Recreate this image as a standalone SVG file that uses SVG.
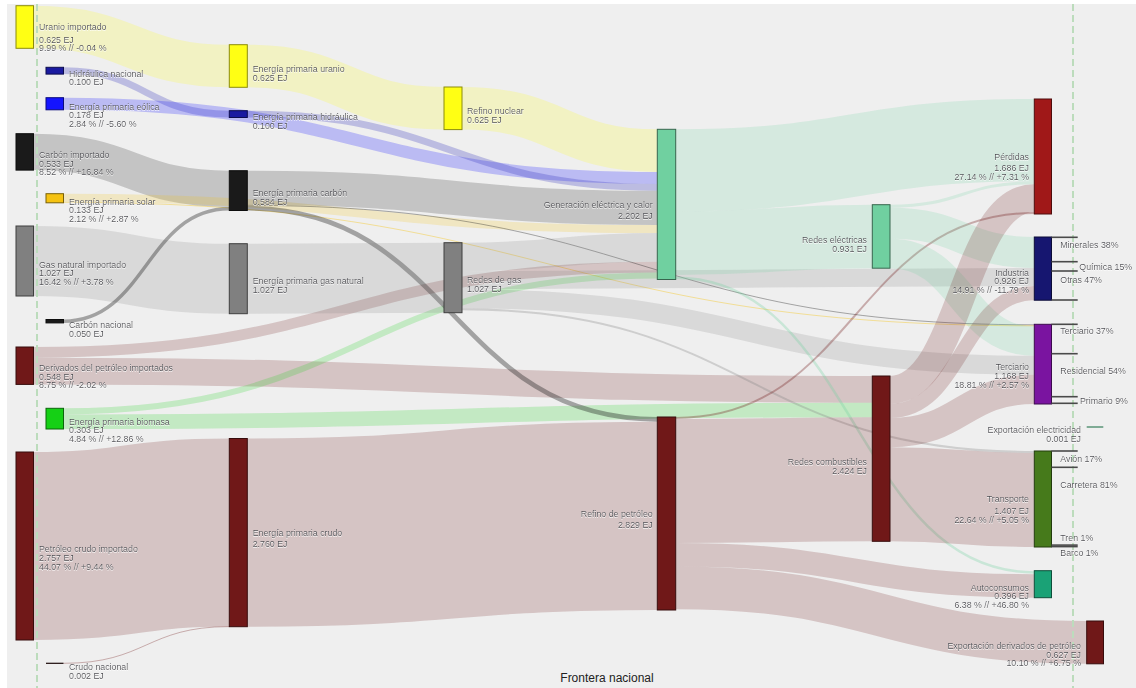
<svg xmlns="http://www.w3.org/2000/svg" width="1136" height="688" viewBox="0 0 1136 688">
<defs>
<filter id="halo" x="-5%" y="-30%" width="110%" height="160%"><feDropShadow dx="0" dy="0.9" stdDeviation="0.2" flood-color="#ffffff" flood-opacity="0.9"/></filter>
<style>
.lk{fill:none;stroke-opacity:0.2}
.th{stroke-opacity:0.38}
.ur{stroke:#ffff14}.hy{stroke:#2a2ab8;stroke-opacity:0.26}.wi{stroke:#1414ff;stroke-opacity:0.24}
.co{stroke:#1a1a1a}.so{stroke:#f5c211}.ga{stroke:#808080}.pe{stroke:#701818}
.bi{stroke:#15d015}.el{stroke:#70d0a0}
.th.co{stroke-opacity:0.36}.th.so{stroke-opacity:0.4}.th.pe{stroke-opacity:0.32}.th.ga{stroke-opacity:0.3}.th.el{stroke-opacity:0.3}
rect{stroke-width:1}
.n-ur{fill:#ffff14;stroke:#8c8c0a}.n-hy{fill:#1a1aa0;stroke:#0d0d4e}.n-wi{fill:#1414ff;stroke:#0a0a7d}
.n-co{fill:#1a1a1a;stroke:#0d0d0d}.n-so{fill:#f5c211;stroke:#786008}.n-ga{fill:#808080;stroke:#3f3f3f}
.n-pe{fill:#701818;stroke:#370c0c}.n-bi{fill:#15d015;stroke:#0a660a}.n-el{fill:#70d0a0;stroke:#37664e}
.n-pd{fill:#a01818;stroke:#4e0c0c}.n-in{fill:#161670;stroke:#0b0b37}.n-te{fill:#7a14a0;stroke:#3c0a4e}
.n-tr{fill:#467a1b;stroke:#223c0d}.n-au{fill:#1aa276;stroke:#0d4f3a}
text{font-family:"Liberation Sans",Arial,sans-serif;font-size:8.8px;fill:#4f4f55}
.lbl{filter:url(#halo)}
.e{text-anchor:end}
.br{stroke:#4a4a4a;stroke-width:1.6}
.fr{stroke:#bcdcbc;stroke-width:2;stroke-dasharray:7,4;fill:none}
</style>
</defs>
<rect x="7" y="4" width="1129" height="684" fill="#efefef"/>
<g id="connectors">
<path class="lk ur" stroke-width="42.6" d="M33.5,27 C131.4,27 131.4,66 229.3,66"/>
<path class="lk hy" stroke-width="6.8" d="M63.5,70.7 C146.4,70.7 146.4,114.1 229.3,114.1"/>
<path class="lk wi" stroke-width="12.1" d="M63.5,103.75 C360.4,103.75 360.4,177.95 657.3,177.95"/>
<path class="lk co" stroke-width="36.4" d="M33.5,151.9 C131.4,151.9 131.4,188.9 229.3,188.9"/>
<path class="lk so" stroke-width="8.1" d="M63.5,197.75 C360.4,197.75 360.4,229.05 657.3,229.05"/>
<path class="lk so th" stroke-width="1" d="M63.5,202.3 C548.9,202.3 548.9,325.8 1034.3,325.8"/>
<path class="lk ga" stroke-width="70" d="M33.5,261 C131.4,261 131.4,278.7 229.3,278.7"/>
<path class="lk co th" stroke-width="3.4" d="M63.5,321.2 C146.4,321.2 146.4,208.8 229.3,208.8"/>
<path class="lk pe" stroke-width="10.7" d="M33.5,352.35 C345.4,352.35 345.4,267.05 657.3,267.05"/>
<path class="lk pe" stroke-width="26.7" d="M33.5,371.05 C452.9,371.05 452.9,389.35 872.3,389.35"/>
<path class="lk bi" stroke-width="6.1" d="M63.5,411.35 C360.4,411.35 360.4,275.45 657.3,275.45"/>
<path class="lk bi" stroke-width="14.6" d="M63.5,421.7 C467.9,421.7 467.9,410 872.3,410"/>
<path class="lk pe" stroke-width="188" d="M33.5,546 C131.4,546 131.4,532.5 229.3,532.5"/>
<path class="lk pe th" stroke-width="1" d="M63.5,663.3 C146.4,663.3 146.4,626.6 229.3,626.6"/>
<path class="lk ur" stroke-width="42.6" d="M247.3,66 C345.65,66 345.65,108.3 444,108.3"/>
<path class="lk hy" stroke-width="6.8" d="M247.3,114.1 C452.3,114.1 452.3,187.4 657.3,187.4"/>
<path class="lk co" stroke-width="34.2" d="M247.3,187.8 C452.3,187.8 452.3,207.9 657.3,207.9"/>
<path class="lk co th" stroke-width="1" d="M247.3,205.4 C640.8,205.4 640.8,324.8 1034.3,324.8"/>
<path class="lk co th" stroke-width="4.7" d="M247.3,208.25 C452.3,208.25 452.3,419.35 657.3,419.35"/>
<path class="lk ga" stroke-width="70" d="M247.3,278.7 C345.65,278.7 345.65,277.7 444,277.7"/>
<path class="lk pe" stroke-width="188.2" d="M247.3,532.6 C452.3,532.6 452.3,515.8 657.3,515.8"/>
<path class="lk ur" stroke-width="42.6" d="M462,108.3 C559.65,108.3 559.65,150.6 657.3,150.6"/>
<path class="lk ga" stroke-width="28.6" d="M462,257 C559.65,257 559.65,247.4 657.3,247.4"/>
<path class="lk ga" stroke-width="18" d="M462,280.3 C748.15,280.3 748.15,277 1034.3,277"/>
<path class="lk ga" stroke-width="19" d="M462,298.8 C748.15,298.8 748.15,365.3 1034.3,365.3"/>
<path class="lk ga th" stroke-width="2" d="M462,309.3 C748.15,309.3 748.15,452 1034.3,452"/>
<path class="lk el" stroke-width="82.2" d="M675.7,170.4 C855,170.4 855,140.1 1034.3,140.1"/>
<path class="lk el" stroke-width="63.5" d="M675.7,243.25 C774,243.25 774,236.45 872.3,236.45"/>
<path class="lk el th" stroke-width="2.5" d="M675.7,277.75 C855,277.75 855,572.45 1034.3,572.45"/>
<path class="lk pe th" stroke-width="2" d="M675.7,418 C855,418 855,213 1034.3,213"/>
<path class="lk pe" stroke-width="124" d="M675.7,481 C774,481 774,479.3 872.3,479.3"/>
<path class="lk pe" stroke-width="23.5" d="M675.7,554.75 C855,554.75 855,585.95 1034.3,585.95"/>
<path class="lk pe" stroke-width="42.8" d="M675.7,587.9 C881.2,587.9 881.2,642.4 1086.7,642.4"/>
<path class="lk el" stroke-width="3" d="M890,206.2 C962.15,206.2 962.15,182.7 1034.3,182.7"/>
<path class="lk el" stroke-width="31" d="M890,223.2 C962.15,223.2 962.15,252.5 1034.3,252.5"/>
<path class="lk el" stroke-width="29.5" d="M890,253.45 C962.15,253.45 962.15,341.05 1034.3,341.05"/>
<path class="lk pe" stroke-width="27.8" d="M890,389.9 C962.15,389.9 962.15,198.1 1034.3,198.1"/>
<path class="lk pe" stroke-width="14.2" d="M890,410.9 C962.15,410.9 962.15,293.1 1034.3,293.1"/>
<path class="lk pe" stroke-width="29.2" d="M890,432.6 C962.15,432.6 962.15,389.4 1034.3,389.4"/>
<path class="lk pe" stroke-width="94" d="M890,494.2 C962.15,494.2 962.15,500 1034.3,500"/>
</g>
<g id="frontera">
<line class="fr" x1="37" y1="4" x2="37" y2="688"/>
<line class="fr" x1="1073" y1="4" x2="1073" y2="688"/>
<text x="607" y="681.5" text-anchor="middle" style="font-size:12px;fill:#222">Frontera nacional</text>
</g>
<g id="node-uranio-importado"><rect class="n-ur" x="16" y="5.7" width="17.5" height="42.6"/><text class="lbl" x="39"><tspan x="39" y="30.2">Uranio importado</tspan><tspan x="39" y="42.5">0.625 EJ</tspan><tspan x="39" y="50.9">9.99 % // -0.04 %</tspan></text></g>
<g id="node-hidraulica-nacional"><rect class="n-hy" x="46" y="67.3" width="17.5" height="6.8"/><text class="lbl"><tspan x="69" y="76.5">Hidráulica nacional</tspan><tspan x="69" y="85.2">0.100 EJ</tspan></text></g>
<g id="node-eolica"><rect class="n-wi" x="46" y="97.7" width="17.5" height="12.1"/><text class="lbl"><tspan x="69" y="109.9">Energía primaria eólica</tspan><tspan x="69" y="118.2">0.178 EJ</tspan><tspan x="69" y="127.2">2.84 % // -5.60 %</tspan></text></g>
<g id="node-carbon-importado"><rect class="n-co" x="16" y="133.7" width="17.5" height="36.4"/><text class="lbl"><tspan x="39" y="157.9">Carbón importado</tspan><tspan x="39" y="166.5">0.533 EJ</tspan><tspan x="39" y="175.2">8.52 % // +16.84 %</tspan></text></g>
<g id="node-solar"><rect class="n-so" x="46" y="193.7" width="17.5" height="9.1"/><text class="lbl"><tspan x="69" y="204.5">Energía primaria solar</tspan><tspan x="69" y="213.2">0.133 EJ</tspan><tspan x="69" y="221.9">2.12 % // +2.87 %</tspan></text></g>
<g id="node-gas-importado"><rect class="n-ga" x="16" y="226" width="17.5" height="70"/><text class="lbl"><tspan x="39" y="267.5">Gas natural importado</tspan><tspan x="39" y="275.9">1.027 EJ</tspan><tspan x="39" y="284.5">16.42 % // +3.78 %</tspan></text></g>
<g id="node-carbon-nacional"><rect class="n-co" x="46" y="319.5" width="17.5" height="3.4"/><text class="lbl"><tspan x="69" y="327.5">Carbón nacional</tspan><tspan x="69" y="336.5">0.050 EJ</tspan></text></g>
<g id="node-derivados-importados"><rect class="n-pe" x="16" y="347" width="17.5" height="37.4"/><text class="lbl"><tspan x="39" y="370.9">Derivados del petróleo importados</tspan><tspan x="39" y="379.5">0.548 EJ</tspan><tspan x="39" y="388.2">8.75 % // -2.02 %</tspan></text></g>
<g id="node-biomasa"><rect class="n-bi" x="46" y="408.3" width="17.5" height="20.7"/><text class="lbl"><tspan x="69" y="424.5">Energía primaria biomasa</tspan><tspan x="69" y="433.2">0.303 EJ</tspan><tspan x="69" y="442.2">4.84 % // +12.86 %</tspan></text></g>
<g id="node-crudo-importado"><rect class="n-pe" x="16" y="452" width="17.5" height="188"/><text class="lbl"><tspan x="39" y="551.9">Petróleo crudo importado</tspan><tspan x="39" y="560.5">2.757 EJ</tspan><tspan x="39" y="569.9">44.07 % // +9.44 %</tspan></text></g>
<g id="node-crudo-nacional"><line x1="46" y1="663.3" x2="63.5" y2="663.3" stroke="#1a0808" stroke-width="1.2"/><text class="lbl"><tspan x="69" y="669.9">Crudo nacional</tspan><tspan x="69" y="678.5">0.002 EJ</tspan></text></g>
<g id="node-ep-uranio"><rect class="n-ur" x="229.3" y="44.7" width="18" height="42.6"/><text class="lbl"><tspan x="252.7" y="71.9">Energía primaria uranio</tspan><tspan x="252.7" y="80.5">0.625 EJ</tspan></text></g>
<g id="node-ep-hidraulica"><rect class="n-hy" x="229.3" y="110.7" width="18" height="6.8"/><text class="lbl"><tspan x="252.7" y="119.9">Energía primaria hidráulica</tspan><tspan x="252.7" y="128.5">0.100 EJ</tspan></text></g>
<g id="node-ep-carbon"><rect class="n-co" x="229.3" y="170.7" width="18" height="39.8"/><text class="lbl"><tspan x="252.7" y="196.2">Energía primaria carbón</tspan><tspan x="252.7" y="204.9">0.584 EJ</tspan></text></g>
<g id="node-ep-gas"><rect class="n-ga" x="229.3" y="243.7" width="18" height="70"/><text class="lbl"><tspan x="252.7" y="283.9">Energía primaria gas natural</tspan><tspan x="252.7" y="292.5">1.027 EJ</tspan></text></g>
<g id="node-ep-crudo"><rect class="n-pe" x="229.3" y="438.5" width="18" height="188.2"/><text class="lbl"><tspan x="252.7" y="535.9">Energía primaria crudo</tspan><tspan x="252.7" y="546.5">2.760 EJ</tspan></text></g>
<g id="node-refino-nuclear"><rect class="n-ur" x="444" y="87" width="18" height="42.6"/><text class="lbl"><tspan x="467" y="114.2">Refino nuclear</tspan><tspan x="467" y="123.2">0.625 EJ</tspan></text></g>
<g id="node-redes-gas"><rect class="n-ga" x="444" y="242.7" width="18" height="70"/><text class="lbl"><tspan x="467" y="283.2">Redes de gas</tspan><tspan x="467" y="292.2">1.027 EJ</tspan></text></g>
<g id="node-generacion"><rect class="n-el" x="657.3" y="129.3" width="18.4" height="150.2"/><text class="lbl e"><tspan x="652.7" y="208.2">Generación eléctrica y calor</tspan><tspan x="652.7" y="218.5">2.202 EJ</tspan></text></g>
<g id="node-refino-petroleo"><rect class="n-pe" x="657.3" y="417" width="18.4" height="193"/><text class="lbl e"><tspan x="652.7" y="517.2">Refino de petróleo</tspan><tspan x="652.7" y="527.5">2.829 EJ</tspan></text></g>
<g id="node-redes-electricas"><rect class="n-el" x="872.3" y="204.7" width="17.7" height="63.5"/><text class="lbl e"><tspan x="867" y="243.2">Redes eléctricas</tspan><tspan x="867" y="251.5">0.931 EJ</tspan></text></g>
<g id="node-redes-combustibles"><rect class="n-pe" x="872.3" y="376" width="17.7" height="165.3"/><text class="lbl e"><tspan x="867" y="464.9">Redes combustibles</tspan><tspan x="867" y="473.5">2.424 EJ</tspan></text></g>
<g id="node-perdidas"><rect class="n-pd" x="1034.3" y="99" width="17.2" height="115"/><text class="lbl e"><tspan x="1029" y="159.9">Pérdidas</tspan><tspan x="1029" y="170.5">1.686 EJ</tspan><tspan x="1029" y="179.9">27.14 % // +7.31 %</tspan></text></g>
<g id="node-industria"><rect class="n-in" x="1034.3" y="237" width="17.2" height="63.2"/><text class="lbl e"><tspan x="1029" y="275.5">Industria</tspan><tspan x="1029" y="284.2">0.926 EJ</tspan><tspan x="1029" y="293.2">14.91 % // -11.79 %</tspan></text>
<line class="br" x1="1051.5" y1="237.3" x2="1077.7" y2="237.3"/><line class="br" x1="1051.5" y1="261.7" x2="1077.7" y2="261.7"/><line class="br" x1="1051.5" y1="271" x2="1077.7" y2="271"/><line class="br" x1="1051.5" y1="300" x2="1077.7" y2="300"/>
<text class="lbl" x="1060.3" y="247.9">Minerales 38%</text><text class="lbl" x="1079.3" y="269.9">Química 15%</text><text class="lbl" x="1060.3" y="283.2">Otras 47%</text></g>
<g id="node-terciario"><rect class="n-te" x="1034.3" y="324.3" width="17.2" height="79.7"/><text class="lbl e"><tspan x="1029" y="369.9">Terciario</tspan><tspan x="1029" y="378.5">1.168 EJ</tspan><tspan x="1029" y="387.5">18.81 % // +2.57 %</tspan></text>
<line class="br" x1="1051.5" y1="324.3" x2="1077.7" y2="324.3"/><line class="br" x1="1051.5" y1="353.7" x2="1077.7" y2="353.7"/><line class="br" x1="1051.5" y1="396.7" x2="1077.7" y2="396.7"/><line class="br" x1="1051.5" y1="403.3" x2="1077.7" y2="403.3"/>
<text class="lbl" x="1060.3" y="334.2">Terciario 37%</text><text class="lbl" x="1060.3" y="374.2">Residencial 54%</text><text class="lbl" x="1080" y="403.5">Primario 9%</text></g>
<g id="node-exportacion-electricidad"><line x1="1086.7" y1="427" x2="1103.3" y2="427" stroke="#4f8f6f" stroke-width="1.4"/><text class="lbl e"><tspan x="1081" y="433.2">Exportación electricidad</tspan><tspan x="1081" y="441.9">0.001 EJ</tspan></text></g>
<g id="node-transporte"><rect class="n-tr" x="1034.3" y="451" width="17.2" height="96"/><text class="lbl e"><tspan x="1029" y="501.5">Transporte</tspan><tspan x="1029" y="513.9">1.407 EJ</tspan><tspan x="1029" y="522.5">22.64 % // +5.05 %</tspan></text>
<line class="br" x1="1051.5" y1="451" x2="1077.7" y2="451"/><line class="br" x1="1051.5" y1="467.3" x2="1077.7" y2="467.3"/><line class="br" x1="1051.5" y1="545.1" x2="1077.7" y2="545.1"/><line class="br" x1="1051.5" y1="546.6" x2="1077.7" y2="546.6"/>
<text class="lbl" x="1060.3" y="461.9">Avión 17%</text><text class="lbl" x="1060.3" y="487.5">Carretera 81%</text><text class="lbl" x="1060.3" y="540.9">Tren 1%</text><text class="lbl" x="1060.3" y="555.9">Barco 1%</text></g>
<g id="node-autoconsumos"><rect class="n-au" x="1034.3" y="570.7" width="17.2" height="27"/><text class="lbl e"><tspan x="1029" y="590.5">Autoconsumos</tspan><tspan x="1029" y="599.2">0.396 EJ</tspan><tspan x="1029" y="607.9">6.38 % // +46.80 %</tspan></text></g>
<g id="node-exportacion-derivados"><rect class="n-pe" x="1086.7" y="621" width="16.8" height="42.8"/><text class="lbl e"><tspan x="1081" y="648.9">Exportación derivados de petróleo</tspan><tspan x="1081" y="657.5">0.627 EJ</tspan><tspan x="1081" y="666.2">10.10 % // +6.75 %</tspan></text></g>
</svg>
